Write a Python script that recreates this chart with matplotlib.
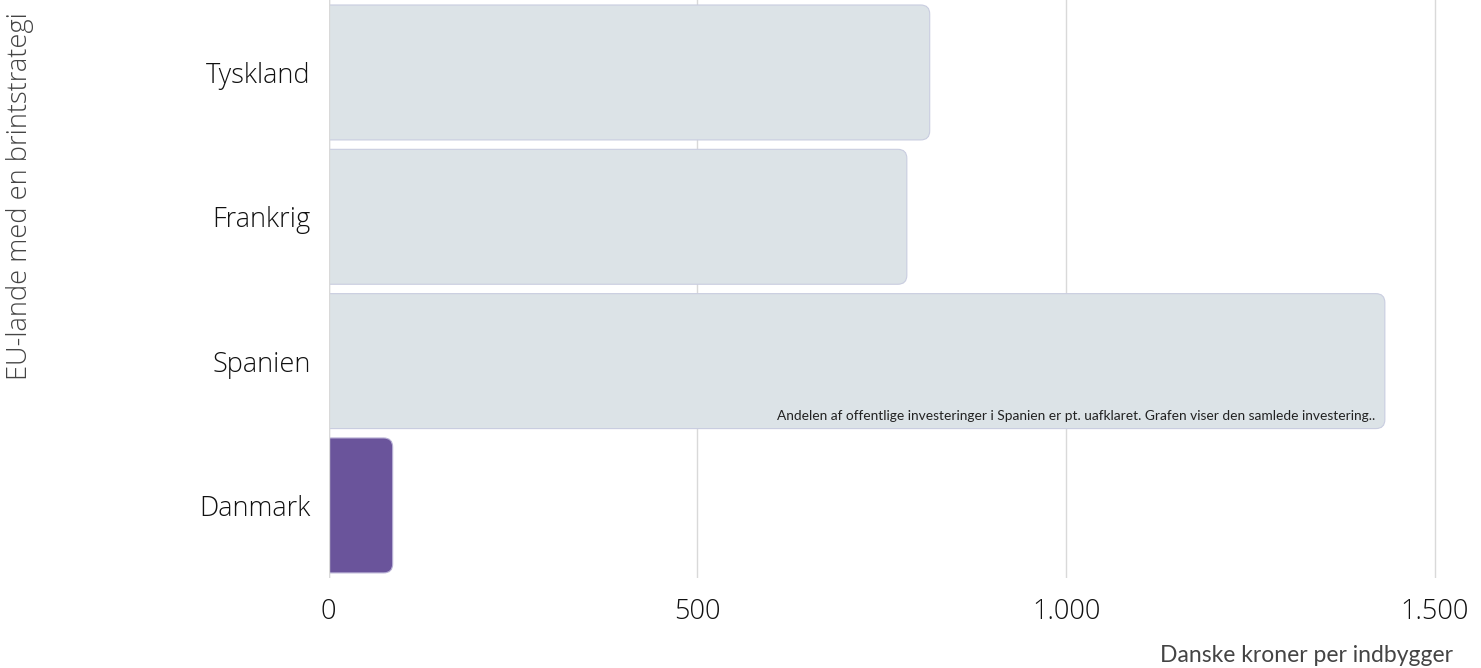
import matplotlib
matplotlib.use("Agg")
import matplotlib.pyplot as plt
from matplotlib.patches import FancyBboxPatch
from matplotlib.ticker import FuncFormatter

# data
lande = ["Tyskland", "Frankrig", "Spanien", "Danmark"]
kr_per_indbygger = [815, 784, 1432, 87]
farver = ["#dce3e7", "#dce3e7", "#dce3e7", "#6a549b"]
kanter = ["#c9cde0", "#c9cde0", "#c9cde0", "#b9b2d6"]
note = "Andelen af offentlige investeringer i Spanien er pt. uafklaret. Grafen viser den samlede investering.."
xticks = [0, 500, 1000, 1500]

plt.rcParams['font.family'] = ['Lato', 'DejaVu Sans']
tick_font = ['Open Sans', 'DejaVu Sans']

fig = plt.figure(figsize=(14.81, 6.68), dpi=100)
ax = fig.add_axes([328.5 / 1481, (668 - 577.6) / 668, (1442.4 - 328.5) / 1481, 577.3 / 668])

bars = ax.barh(range(len(lande)), kr_per_indbygger, height=0.935)

# swap plain bars for bars with rounded right corners (left side is clipped by the axis)
px_x = (1442.4 - 328.5) / 1510
px_y = 577.3 / 4
r = 9
for b, fc, ec in zip(bars, farver, kanter):
    x0, y0, w, h = b.get_x(), b.get_y(), b.get_width(), b.get_height()
    b.set_visible(False)
    ext = 20 / px_x
    p = FancyBboxPatch((x0 - ext, y0), w + ext, h,
                       boxstyle="round,pad=0,rounding_size=%f" % (r / px_x),
                       mutation_aspect=px_x / px_y,
                       fc=fc, ec=ec, lw=0.8, zorder=2, clip_on=True)
    ax.add_patch(p)

ax.set_xlim(0, 1510)
ax.set_ylim(3.5, -0.5)
ax.set_yticks(range(len(lande)))
ax.set_yticklabels(lande)
ax.set_xticks(xticks)
ax.xaxis.set_major_formatter(FuncFormatter(lambda v, p: f"{int(v):,}".replace(",", ".")))
ax.tick_params(axis='both', length=0, labelsize=19.5, labelcolor="#111111")
ax.tick_params(axis='y', pad=13)
ax.tick_params(axis='x', pad=15)
for lbl in ax.get_xticklabels() + ax.get_yticklabels():
    lbl.set_family(tick_font)
    lbl.set_fontweight('light')

ax.grid(axis='x', color="#d9d9d9", lw=1, zorder=0)
ax.set_axisbelow(True)
for s in ax.spines.values():
    s.set_visible(False)
ax.axvline(0, color="#d9d9d9", lw=1, zorder=3)

# note inside the Spanien bar
ax.text(kr_per_indbygger[2] - 10 / px_x, 2 + 0.935 / 2 - 0.045, note,
        ha='right', va='bottom', fontsize=9.9, color="#222222", zorder=4)

fig.text(1453 / 1481, 1 - 655 / 668, "Danske kroner per indbygger",
         ha='right', va='center', fontsize=16.5, color="#444444")
fig.text(20 / 1481, 1 - 196 / 668, "EU-lande med en brintstrategi",
         ha='center', va='center', rotation=90, fontsize=19.6,
         color="#444444", family=['Open Sans', 'DejaVu Sans'], fontweight='light')

fig.savefig("out.png", dpi=100)
